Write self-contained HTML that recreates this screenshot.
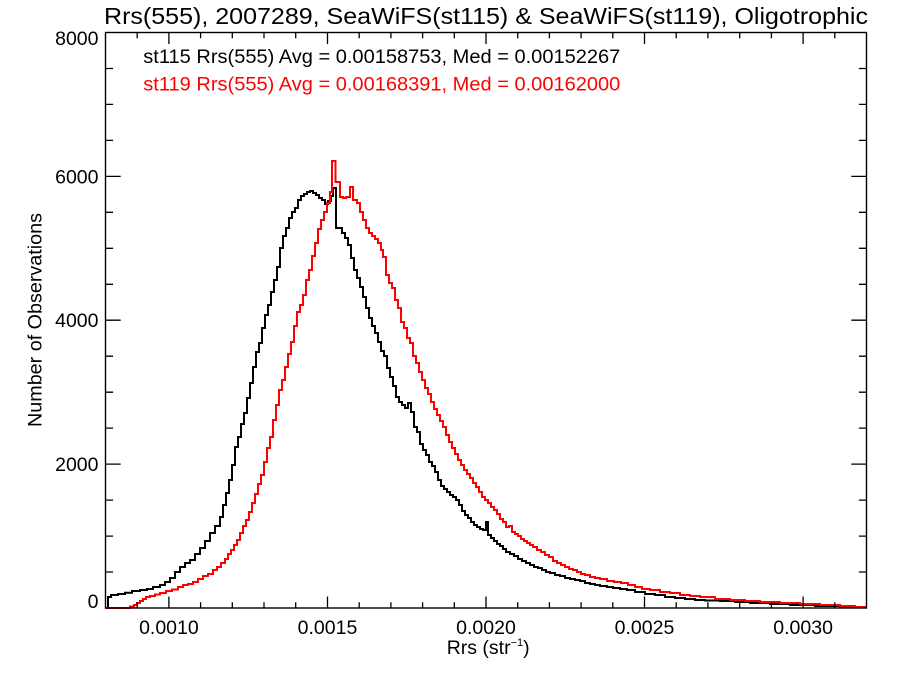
<!DOCTYPE html>
<html>
<head>
<meta charset="utf-8">
<style>
html,body{margin:0;padding:0;background:#fff;}
svg{display:block;}
text{font-family:"Liberation Sans",Arial,sans-serif;}
</style>
</head>
<body>
<svg width="900" height="675" viewBox="0 0 900 675" xmlns="http://www.w3.org/2000/svg">
<rect x="0" y="0" width="900" height="675" fill="#fff"/>

<!-- Title -->
<text x="104" y="24" font-size="23.5" fill="#000" textLength="764" lengthAdjust="spacingAndGlyphs">Rrs(555), 2007289, SeaWiFS(st115) &amp; SeaWiFS(st119), Oligotrophic</text>

<!-- Histograms -->
<path fill="none" stroke="#000" stroke-width="2" stroke-linejoin="miter" d="M105.5 608 H108 V597 H111 V595 H118 V594 H125 V592.7 H132 V591 H140 V590 H147 V589 H153 V587 H160 V585 H165 V582 H170 V578 H175 V572 H180 V567 H185 V563 H190 V560 H195 V554 H200 V548 H205 V541 H210 V533 H215 V526 H220 V517 H223 V505 H226 V493 H229 V480 H232 V465 H235 V447 H238 V437 H241 V424 H244 V413 H247 V398 H250 V383 H253 V367 H256 V352 H259 V343 H262 V328 H265 V315 H268 V305 H271 V292 H274 V280 H277 V267 H280 V248 H283 V236 H286 V228 H289 V218 H292 V212 H295 V208 H298 V200 H301 V196 H304 V194 H307 V192 H310 V191 H313 V193 H316 V195 H319 V198 H322 V200 H325 V204 H328 V201 H331 V196 H333 V188 H336 V228 H339 V228 H342 V233 H345 V238 H348 V245 H351 V258 H354 V270 H357 V278 H360 V287 H363 V297 H366 V308 H369 V318 H372 V326 H375 V333 H378 V342 H381 V351 H384 V356 H387 V368 H390 V377 H393 V386 H396 V397 H399 V402 H402 V405 H405 V408 H408 V403 H411 V412 H414 V427 H417 V432 H420 V444 H423 V450 H426 V455 H429 V462 H432 V466 H435 V472 H438 V480 H441 V486 H444 V489 H447 V492 H450 V495 H453 V497 H456 V500 H459 V505 H462 V511 H465 V515 H468 V518 H471 V522 H474 V525 H477 V527 H480 V529 H483 V530 H486 V522 H488 V535 H491 V538 H494 V541 H497 V544 H500 V546 H503 V549 H506 V552 H510 V554 H514 V556 H518 V559 H522 V561 H526 V563 H530 V565 H534 V567 H538 V568 H542 V570 H546 V572 H550 V573 H555 V575 H560 V576 H565 V578 H570 V579 H575 V580 H580 V581 H585 V583 H590 V584 H595 V585 H600 V586 H607 V587 H613 V588 H620 V589 H627 V590 H635 V592 H645 V594 H655 V595 H665 V597 H675 V598 H685 V599 H695 V600 H705 V600.5 H720 V601 H735 V602 H750 V603 H770 V604 H790 V605 H815 V606 H840 V607 H866.5"/>

<path fill="none" stroke="#ff0000" stroke-width="2" stroke-linejoin="miter" d="M105.5 608 H130 V606.5 H134 V605 H137 V603 H140 V601 H143 V599 H146 V597 H150 V596 H155 V594.5 H160 V593 H166 V591 H172 V589.5 H178 V587 H183 V585 H188 V584 H193 V582 H198 V579 H203 V576 H208 V574 H213 V570 H217 V567 H221 V563 H225 V559 H228 V554 H231 V550 H234 V545 H237 V540 H240 V533 H243 V526 H246 V520 H249 V512 H252 V503 H255 V494 H258 V484 H261 V475 H264 V462 H267 V448 H270 V437 H273 V420 H276 V405 H279 V390 H282 V380 H285 V367 H288 V354 H291 V342 H294 V326 H297 V312 H300 V305 H303 V295 H306 V280 H309 V270 H312 V256 H315 V243 H318 V229 H321 V220 H324 V212 H327 V203 H330 V192 H332 V161 H335.5 V182 H340 V197 H343 V198 H346 V197 H350 V187 H353 V200 H357 V203 H360 V212 H363 V220 H366 V228 H369 V233 H372 V236 H375 V239 H378 V243 H381 V250 H383 V257 H386 V275 H389 V283 H392 V288 H395 V300 H398 V308 H401 V322 H404 V328 H407 V338 H410 V343 H413 V356 H416 V363 H419 V372 H422 V380 H425 V388 H428 V394 H431 V402 H434 V409 H437 V415 H440 V421 H443 V427 H446 V435 H449 V442 H452 V448 H455 V454 H458 V460 H461 V465 H464 V470 H467 V474 H470 V478 H473 V483 H476 V487 H479 V492 H482 V497 H485 V500 H488 V503 H491 V507 H494 V510 H497 V514 H500 V519 H503 V522 H506 V527 H509 V526 H512 V532 H515 V534 H518 V536 H521 V539 H524 V541 H527 V543 H530 V545 H533 V547 H537 V550 H541 V552 H545 V555 H549 V557 H553 V561 H557 V563 H561 V565 H565 V567 H569 V569 H573 V570 H577 V572 H581 V574 H585 V575 H590 V577 H595 V578 H600 V579 H607 V581 H614 V582 H621 V583 H628 V585 H635 V587 H642 V589 H650 V590 H660 V592 H670 V593 H680 V595 H690 V596 H700 V597 H715 V599 H730 V600 H745 V601 H760 V602 H780 V603 H800 V604 H820 V605 H840 V606 H855 V607 H866.5"/>

<!-- Frame -->
<rect x="105.5" y="32.5" width="761" height="575.5" fill="none" stroke="#000" stroke-width="1.4"/>

<!-- X ticks (bottom & top) -->
<path fill="none" stroke="#000" stroke-width="1.3" d="
M137.2 608 v-5.75 M168.9 608 v-11.5 M200.6 608 v-5.75 M232.3 608 v-5.75 M264.0 608 v-5.75 M295.7 608 v-5.75 M327.5 608 v-11.5 M359.2 608 v-5.75 M390.9 608 v-5.75 M422.6 608 v-5.75 M454.3 608 v-5.75 M486.0 608 v-11.5 M517.7 608 v-5.75 M549.4 608 v-5.75 M581.1 608 v-5.75 M612.8 608 v-5.75 M644.5 608 v-11.5 M676.2 608 v-5.75 M707.9 608 v-5.75 M739.7 608 v-5.75 M771.4 608 v-5.75 M803.1 608 v-11.5 M834.8 608 v-5.75
M137.2 32.5 v5.75 M168.9 32.5 v11.5 M200.6 32.5 v5.75 M232.3 32.5 v5.75 M264.0 32.5 v5.75 M295.7 32.5 v5.75 M327.5 32.5 v11.5 M359.2 32.5 v5.75 M390.9 32.5 v5.75 M422.6 32.5 v5.75 M454.3 32.5 v5.75 M486.0 32.5 v11.5 M517.7 32.5 v5.75 M549.4 32.5 v5.75 M581.1 32.5 v5.75 M612.8 32.5 v5.75 M644.5 32.5 v11.5 M676.2 32.5 v5.75 M707.9 32.5 v5.75 M739.7 32.5 v5.75 M771.4 32.5 v5.75 M803.1 32.5 v11.5 M834.8 32.5 v5.75
"/>

<!-- Y ticks (left & right) -->
<path fill="none" stroke="#000" stroke-width="1.3" d="
M105.5 572.0 h7.6 M105.5 536.1 h7.6 M105.5 500.1 h7.6 M105.5 464.1 h15.2 M105.5 428.1 h7.6 M105.5 392.2 h7.6 M105.5 356.2 h7.6 M105.5 320.2 h15.2 M105.5 284.3 h7.6 M105.5 248.3 h7.6 M105.5 212.3 h7.6 M105.5 176.4 h15.2 M105.5 140.4 h7.6 M105.5 104.4 h7.6 M105.5 68.5 h7.6
M866.5 572.0 h-7.6 M866.5 536.1 h-7.6 M866.5 500.1 h-7.6 M866.5 464.1 h-15.2 M866.5 428.1 h-7.6 M866.5 392.2 h-7.6 M866.5 356.2 h-7.6 M866.5 320.2 h-15.2 M866.5 284.3 h-7.6 M866.5 248.3 h-7.6 M866.5 212.3 h-7.6 M866.5 176.4 h-15.2 M866.5 140.4 h-7.6 M866.5 104.4 h-7.6 M866.5 68.5 h-7.6
"/>

<!-- Y tick labels -->
<g font-size="19.5" fill="#000" text-anchor="end">
<text x="98.5" y="45">8000</text>
<text x="98.5" y="183.4">6000</text>
<text x="98.5" y="327">4000</text>
<text x="98.5" y="471">2000</text>
<text x="98.5" y="608">0</text>
</g>

<!-- X tick labels -->
<g font-size="19.5" fill="#000" text-anchor="middle">
<text x="168.9" y="634">0.0010</text>
<text x="327.5" y="634">0.0015</text>
<text x="486.0" y="634">0.0020</text>
<text x="644.5" y="634">0.0025</text>
<text x="803.1" y="634">0.0030</text>
</g>

<!-- Axis titles -->
<text x="446.7" y="654" font-size="19.5" fill="#000">Rrs (str<tspan font-size="11" dy="-8">−1</tspan><tspan dy="8">)</tspan></text>
<text transform="translate(41.5,320) rotate(-90)" x="0" y="0" font-size="19.5" fill="#000" text-anchor="middle" textLength="214" lengthAdjust="spacingAndGlyphs">Number of Observations</text>

<!-- Legend -->
<text x="143.3" y="63" font-size="19" fill="#000" textLength="477" lengthAdjust="spacingAndGlyphs">st115 Rrs(555) Avg = 0.00158753, Med = 0.00152267</text>
<text x="143.3" y="90.5" font-size="19" fill="#ff0000" textLength="477" lengthAdjust="spacingAndGlyphs">st119 Rrs(555) Avg = 0.00168391, Med = 0.00162000</text>
</svg>
</body>
</html>
